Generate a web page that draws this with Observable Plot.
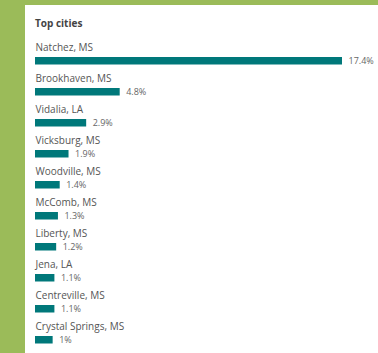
<!DOCTYPE html>
<html>
<head>
<meta charset="utf-8">
<script src="https://cdn.jsdelivr.net/npm/d3@7"></script>
<script src="https://cdn.jsdelivr.net/npm/@observablehq/plot@0.6"></script>
<style>
  html, body { margin: 0; padding: 0; }
  body { width: 378px; height: 353px; background: #9bbb59; position: relative; overflow: hidden; font-family: "Open Sans", sans-serif; }
  #panel { position: absolute; left: 25px; top: 5px; width: 353px; height: 348px; background: #fff; }
  #title { position: absolute; left: 10px; top: 11px; font-size: 10px; font-weight: 700; color: #444; line-height: 14px; }
  #chart { position: absolute; left: 0; top: 0; }
</style>
</head>
<body>
<div id="panel">
  <div id="title">Top cities</div>
  <div id="chart"></div>
</div>
<script>
const cities = ["Natchez, MS", "Brookhaven, MS", "Vidalia, LA", "Vicksburg, MS", "Woodville, MS", "McComb, MS", "Liberty, MS", "Jena, LA", "Centreville, MS", "Crystal Springs, MS"];
const shares = [17.4, 4.8, 2.9, 1.9, 1.4, 1.3, 1.2, 1.1, 1.1, 1.0];

const data = cities.map((c, i) => ({city: c, share: shares[i]}));
const fmt = v => (+v.toFixed(1)) + "%";

const chart = Plot.plot({
  width: 353,
  height: 348,
  marginTop: 30,
  marginBottom: 3,
  marginLeft: 10,
  marginRight: 36,
  style: {fontFamily: "Open Sans, sans-serif", background: "transparent"},
  x: {domain: [0, 17.4], axis: null},
  y: {domain: cities, padding: 0, axis: null},
  marks: [
    Plot.barX(data, {y: "city", x: "share", fill: "#00787a", insetTop: 19, insetBottom: 4.5}),
    Plot.text(data, {y: "city", x: 0, text: "city", textAnchor: "start", dy: -6.5, fontSize: 10, fill: "#555"}),
    Plot.text(data, {y: "city", x: "share", text: d => fmt(d.share), textAnchor: "start", dx: 6, dy: 7.5, fontSize: 9, fill: "#666"})
  ]
});
document.getElementById("chart").appendChild(chart);
</script>
</body>
</html>
